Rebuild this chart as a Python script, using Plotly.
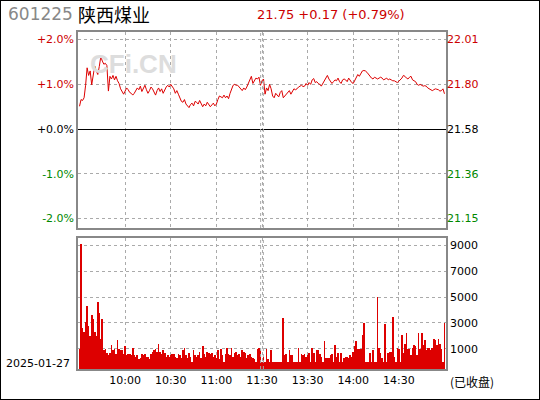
import plotly.graph_objects as go

prev_close = 21.58
pct = [0.51,0.66,0.64,0.70,0.98,1.37,1.20,1.30,0.99,1.18,1.41,1.30,1.22,1.40,1.62,1.52,1.45,1.47,1.42,0.85,1.18,1.12,1.20,1.10,1.18,1.08,1.02,0.90,0.82,0.78,0.85,
 0.92,0.88,0.82,0.80,0.76,0.80,0.86,0.92,0.88,0.96,0.84,0.90,0.98,0.88,0.80,0.86,0.94,0.90,0.82,0.76,0.86,0.92,0.84,0.90,0.80,0.88,0.94,0.98,0.94,1.00,
 0.94,0.90,0.80,0.86,0.78,0.70,0.62,0.60,0.66,0.56,0.52,0.48,0.55,0.58,0.52,0.62,0.60,0.56,0.64,0.58,0.50,0.56,0.52,0.60,0.55,0.50,0.54,0.58,0.52,0.56,
 0.66,0.74,0.72,0.70,0.76,0.70,0.74,0.68,0.80,0.90,0.98,1.00,0.98,0.98,0.94,0.92,0.86,0.92,0.88,0.94,1.02,1.08,1.18,1.02,1.10,1.14,1.12,1.16,0.98,1.08,
 1.12,0.78,0.92,0.86,1.00,0.90,0.74,0.70,0.80,0.76,0.72,0.82,0.86,0.70,0.74,0.76,0.80,0.86,0.78,0.86,0.90,0.88,0.90,0.94,0.96,0.98,0.95,0.96,1.02,0.98,
 1.04,1.00,1.10,1.13,1.04,1.06,1.02,1.00,0.96,1.02,1.08,1.14,1.20,1.12,1.08,1.02,1.06,1.10,1.08,1.14,1.06,1.02,1.10,1.12,1.10,1.06,1.14,1.08,1.04,1.02,
 1.10,1.16,1.22,1.18,1.24,1.30,1.31,1.30,1.27,1.22,1.18,1.14,1.12,1.16,1.14,1.12,1.14,1.16,1.14,1.10,1.12,1.14,1.10,1.12,1.10,1.08,1.08,1.06,1.04,1.07,
 1.10,1.14,1.20,1.18,1.14,1.12,1.16,1.18,1.10,1.08,1.06,1.00,0.98,1.00,0.98,0.96,0.97,0.96,0.92,0.90,0.88,0.86,0.88,0.90,0.89,0.88,0.85,0.86,0.90,0.79]

volume = [1000,9100,2600,2300,3100,4300,2800,2000,3600,3300,2300,2000,4600,3800,1800,3300,900,1000,700,500,700,1300,900,1000,600,1700,1000,900,900,600,1200,
 500,600,600,500,1100,500,400,500,200,300,600,500,600,400,400,200,600,800,900,1000,800,1400,800,600,900,700,400,500,400,500,
 600,600,400,300,600,500,300,900,1100,500,300,700,400,0,900,500,400,500,800,300,1200,600,400,800,700,600,700,400,500,300,
 900,200,1000,500,0,600,1100,600,500,1100,400,700,800,500,600,400,900,800,700,300,500,600,400,300,200,0,1000,1100,900,0,
 400,0,1000,200,0,900,0,0,0,0,0,0,0,3400,500,600,0,900,500,500,0,0,0,1100,0,600,500,600,400,500,
 700,0,1100,700,0,900,900,600,400,0,1600,300,300,300,500,600,0,1300,400,700,0,700,0,300,400,400,300,500,400,800,
 1200,1600,1000,1000,1000,2100,3000,0,0,0,700,0,900,0,0,5000,1100,700,300,0,2900,0,700,800,800,3500,400,0,1100,1000,
 0,2100,700,1400,2200,1000,1000,500,1100,1300,1200,500,2200,1000,2200,1300,1700,900,1100,1100,900,1100,1800,1700,1300,1800,1400,1000,0,3000]

minutes = list(range(len(pct)))
time_ticks = [30, 60, 90, 120, 150, 180, 210]
time_labels = ["10:00", "10:30", "11:00", "11:30", "13:30", "14:00", "14:30"]
pct_ticks = [2, 1, 0, -1, -2]
pct_labels = ["+2.0%", "+1.0%", "+0.0%", "-1.0%", "-2.0%"]
price_labels = ["22.01", "21.80", "21.58", "21.36", "21.15"]
tick_colors = ["#cc0000", "#cc0000", "#000000", "#008800", "#008800"]
vol_ticks = [1000, 3000, 5000, 7000, 9000]
vol_labels = ["1000", "3000", "5000", "7000", "9000"]

FONT = "DejaVu Sans"
vol_base = -540

fig = go.Figure()
fig.add_trace(go.Scatter(x=minutes, y=pct, mode="lines", line=dict(color="#dd0000", width=1),
                         xaxis="x", yaxis="y", showlegend=False))
fig.add_trace(go.Bar(x=minutes, y=[v - vol_base for v in volume], base=vol_base, marker=dict(color="#dd0000", line_width=0),
                     width=0.45, xaxis="x2", yaxis="y3", showlegend=False))
fig.add_trace(go.Scatter(x=[0], y=[0], mode="markers", marker=dict(opacity=0), xaxis="x", yaxis="y2",
                         showlegend=False, hoverinfo="skip"))

grid = dict(showgrid=True, gridcolor="#aaaaaa", griddash="dot", gridwidth=1)
xr = [-1, 241]
xd = [78/540, 446/540]
fig.update_layout(
    width=540, height=400, margin=dict(l=0, r=0, t=0, b=0),
    paper_bgcolor="white", plot_bgcolor="white", bargap=0,
    font=dict(family=FONT, size=11, color="black"),
    xaxis=dict(domain=xd, range=xr, tickvals=time_ticks, showticklabels=False, anchor="y",
               showline=True, mirror=True, linecolor="#888888", linewidth=1.5, zeroline=False, ticks="", **grid),
    yaxis=dict(domain=[1-228/400, 1-32/400], range=[-2.21, 2.17], tickvals=pct_ticks,
               ticktext=[f"<span style='color:{c}'>{t}</span>" for t, c in zip(pct_labels, tick_colors)],
               showline=True, mirror=True, linecolor="#888888", linewidth=1.5, ticks="", zeroline=True,
               zerolinecolor="black", zerolinewidth=1.2, tickfont=dict(size=11), **grid),
    yaxis2=dict(overlaying="y", side="right", range=[-2.21, 2.17], tickvals=pct_ticks,
                ticktext=[f"<span style='color:{c}'>{t}</span>" for t, c in zip(price_labels, tick_colors)],
                showgrid=False, zeroline=False, ticks="", tickfont=dict(size=11), anchor="x"),
    xaxis2=dict(domain=xd, range=xr, tickvals=time_ticks, ticktext=time_labels, anchor="y3",
                showline=True, mirror=True, linecolor="#888888", linewidth=1.5, zeroline=False, ticks="",
                tickfont=dict(size=11), **grid),
    yaxis3=dict(domain=[1-369/400, 1-238/400], range=[-540, 9540], tickvals=vol_ticks, ticktext=vol_labels,
                side="right", anchor="x2", showline=True, mirror=True, linecolor="#888888", linewidth=1.5,
                zeroline=False, ticks="", tickfont=dict(size=11), **grid),
)
for dx in [-1, 1]:
    fig.add_shape(type="line", xref="x", yref="paper", x0=120+dx*0.9, x1=120+dx*0.9, y0=1-228/400, y1=1-32/400,
                  line=dict(color="#aaaaaa", width=1, dash="dot"))
    fig.add_shape(type="line", xref="x2", yref="paper", x0=120+dx*0.9, x1=120+dx*0.9, y0=1-369/400, y1=1-238/400,
                  line=dict(color="#aaaaaa", width=1, dash="dot"))
fig.add_shape(type="rect", xref="paper", yref="paper", x0=0, x1=1, y0=0, y1=1, line=dict(color="black", width=2))

ann = [
    dict(x=6/540, y=1-14/400, text="601225", font=dict(size=17, color="#888888", family=FONT), xanchor="left"),
    dict(x=76/540, y=1-14/400, text="陕西煤业", font=dict(size=18, color="black", family="Noto Sans CJK SC"), xanchor="left"),
    dict(x=255/540, y=1-14/400, text="21.75 +0.17 (+0.79%)", font=dict(size=13, color="#cc0000", family=FONT), xanchor="left"),
    dict(x=88/540, y=1-64/400, text="<b>CFi.CN</b>", font=dict(size=26, color="#dddddd", family="Liberation Sans"), xanchor="left"),
    dict(x=4/540, y=1-363/400, text="2025-01-27", font=dict(size=11, color="black", family=FONT), xanchor="left"),
    dict(x=448/540, y=1-381/400, text="(已收盘)", font=dict(size=12, color="black", family="Noto Sans CJK SC"), xanchor="left"),
]
for a in ann:
    fig.add_annotation(xref="paper", yref="paper", showarrow=False, yanchor="middle", **a)

fig.write_html("out.html", config={"displayModeBar": False},
               post_script="document.body.style.margin='0';document.body.style.overflow='hidden';")
